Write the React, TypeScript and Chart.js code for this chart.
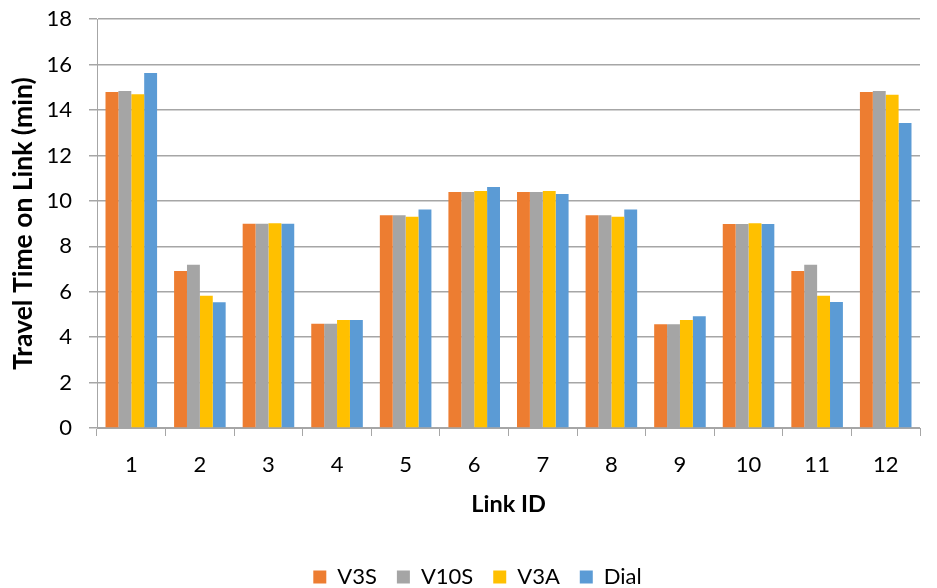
import React, { useEffect, useRef } from "react";
import { Chart, registerables } from "chart.js";

Chart.register(...registerables);

const categories = ["1", "2", "3", "4", "5", "6", "7", "8", "9", "10", "11", "12"];
const v3s = [14.79, 6.91, 8.99, 4.59, 9.37, 10.39, 10.39, 9.37, 4.57, 8.98, 6.91, 14.79];
const v10s = [14.84, 7.19, 8.99, 4.59, 9.37, 10.39, 10.39, 9.37, 4.57, 8.98, 7.19, 14.84];
const v3a = [14.69, 5.82, 9.02, 4.75, 9.3, 10.43, 10.43, 9.3, 4.76, 9.02, 5.82, 14.67];
const dial = [15.63, 5.54, 8.99, 4.75, 9.62, 10.61, 10.3, 9.62, 4.92, 8.98, 5.55, 13.43];
const seriesNames = ["V3S", "V10S", "V3A", "Dial"];
const seriesColors = ["#ED7D31", "#A5A5A5", "#FFC000", "#5B9BD5"];

export default function App() {
  const ref = useRef<HTMLCanvasElement>(null);
  useEffect(() => {
    document.body.style.margin = "0";
    const ctx = ref.current!;
    const font = "Lato, 'Open Sans', sans-serif";
    const values = [v3s, v10s, v3a, dial];
    const chart = new Chart(ctx, {
      type: "bar",
      data: {
        labels: categories,
        datasets: values.map((d, i) => ({
          label: seriesNames[i],
          data: d,
          backgroundColor: seriesColors[i],
          borderWidth: 0,
          categoryPercentage: 0.752,
          barPercentage: 1.0,
        })),
      },
      options: {
        animation: false,
        responsive: false,
        maintainAspectRatio: false,
        layout: { padding: { left: 35, right: 17, top: 2, bottom: 0 } },
        plugins: {
          legend: {
            position: "bottom",
            labels: {
              boxWidth: 13,
              boxHeight: 13,
              padding: 20,
              color: "#000",
              font: { family: font, size: 22 },
            },
          },
          tooltip: { enabled: false },
        },
        scales: {
          x: {
            grid: {
              offset: true,
              drawOnChartArea: false,
              drawTicks: true,
              tickLength: 8,
              color: "#a6a6a6",
            },
            border: { color: "#a6a6a6", width: 1 },
            ticks: { color: "#000", font: { family: font, size: 22 }, padding: 16 },
            title: {
              display: true,
              text: "Link ID",
              color: "#000",
              font: { family: font, size: 23.5, weight: "bold" },
              padding: { top: 0, bottom: 27 },
            },
            afterFit: (axis: any) => {
              axis.height = 118;
            },
          },
          y: {
            min: 0,
            max: 18,
            ticks: {
              stepSize: 2,
              color: "#000",
              font: { family: font, size: 22 },
              padding: 6,
              callback: (v: any) => String(v) + "\u2002",
            },
            grid: { color: "#a6a6a6", lineWidth: 1.5, drawTicks: true, tickLength: 8 },
            border: { color: "#a6a6a6", width: 1 },
            title: {
              display: true,
              text: "Travel Time on Link (min)",
              color: "#000",
              font: { family: font, size: 26.5, weight: "bold" },
              padding: { top: -27, bottom: 0 },
            },
            afterFit: (axis: any) => {
              axis.width = 62;
            },
          },
        },
      },
    });
    return () => chart.destroy();
  }, []);
  return (
    <div style={{ width: 937, height: 588, overflow: "hidden" }}>
      <canvas ref={ref} width={937} height={598} style={{ display: "block" }} />
    </div>
  );
}
